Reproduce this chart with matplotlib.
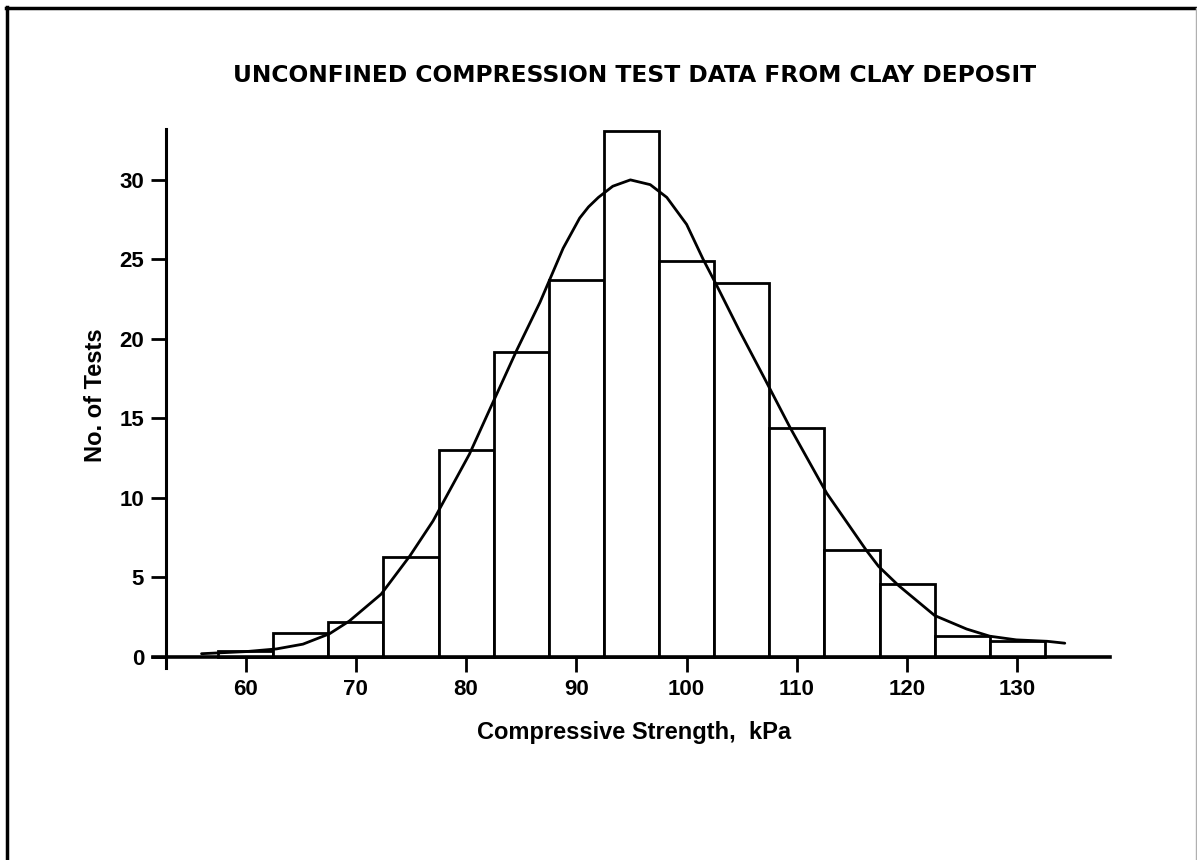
import matplotlib
matplotlib.use("Agg")
import matplotlib.pyplot as plt
from matplotlib.lines import Line2D

plt.rcParams['font.family'] = ['Liberation Sans', 'DejaVu Sans']

# Histogram bins (kPa) and counts
bin_left = [57.5, 62.5, 67.5, 72.5, 77.5, 82.5, 87.5, 92.5, 97.5, 102.5,
            107.5, 112.5, 117.5, 122.5, 127.5]
bin_width = 5.0
counts = [0.35, 1.5, 2.2, 6.3, 13.0, 19.2, 23.7, 33.1, 24.9, 23.5,
          14.4, 6.7, 4.6, 1.3, 1.0]

# Fitted curve
curve_x = [56.0, 60.0, 62.8, 65.2, 67.6, 69.4, 72.3, 74.9, 77.0, 80.3, 82.1,
           84.6, 86.7, 88.8, 90.3, 91.1, 92.0, 93.3, 94.9, 96.7, 98.2, 100.0,
           101.5, 102.7, 104.8, 107.0, 109.4, 112.7, 116.3, 117.4, 119.2,
           122.5, 125.4, 127.5, 129.9, 132.7, 134.3]
curve_y = [0.2, 0.33, 0.5, 0.8, 1.45, 2.25, 3.95, 6.35, 8.55, 12.75, 15.5,
           19.3, 22.3, 25.7, 27.6, 28.3, 28.9, 29.6, 30.0, 29.7, 28.9, 27.2,
           25.0, 23.4, 20.5, 17.6, 14.4, 10.3, 6.7, 5.7, 4.5,
           2.6, 1.75, 1.3, 1.07, 0.98, 0.86]

x_ticks = [60, 70, 80, 90, 100, 110, 120, 130]
y_ticks = [0, 5, 10, 15, 20, 25, 30]

title = "UNCONFINED COMPRESSION TEST DATA FROM CLAY DEPOSIT"
xlabel = "Compressive Strength,  kPa"
ylabel = "No. of Tests"

W, H = 1197, 860
fig = plt.figure(figsize=(W / 100, H / 100), dpi=100)

# axes in pixel coordinates
ax_l, ax_r, ax_t, ax_b = 153, 1110, 129, 668
ax = fig.add_axes([ax_l / W, 1 - ax_b / H, (ax_r - ax_l) / W, (ax_b - ax_t) / H])
ax.set_xlim(51.6, 138.4)
ax.set_ylim(-0.7, 33.2)

ax.bar(bin_left, counts, width=bin_width, align='edge', facecolor='white',
       edgecolor='black', linewidth=2.0, zorder=2)
ax.plot(curve_x, curve_y, color='black', linewidth=2.0, zorder=3,
        solid_joinstyle='round', solid_capstyle='round')

for s in ['top', 'right']:
    ax.spines[s].set_visible(False)
ax.spines['left'].set_position(('data', 52.8))
ax.spines['bottom'].set_position(('data', 0))
ax.spines['left'].set_linewidth(2.2)
ax.spines['bottom'].set_linewidth(2.6)
ax.spines['left'].set_zorder(4)
ax.spines['bottom'].set_zorder(4)

ax.set_xticks(x_ticks)
ax.set_yticks(y_ticks)
ax.tick_params(axis='both', direction='out', length=11, width=2.0,
               labelsize=16, pad=5)
for lab in ax.get_xticklabels() + ax.get_yticklabels():
    lab.set_fontweight('bold')

fig.text(635 / W, 1 - 75 / H, title, ha='center', va='center',
         fontsize=16.8, fontweight='bold', family=['DejaVu Sans'])
fig.text(634 / W, 1 - 733 / H, xlabel, ha='center', va='center',
         fontsize=17, fontweight='bold')
fig.text(95 / W, 1 - 395 / H, ylabel, ha='center', va='center',
         rotation=90, fontsize=17, fontweight='bold')

# outer frame (left, top heavy; right light)
fig.add_artist(Line2D([7 / W, 7 / W], [0, 1 - 7 / H], color='black',
                      linewidth=2.5, transform=fig.transFigure))
fig.add_artist(Line2D([6 / W, 1196 / W], [1 - 8 / H, 1 - 8 / H], color='black',
                      linewidth=2.5, transform=fig.transFigure))
fig.add_artist(Line2D([1195.5 / W, 1195.5 / W], [0, 1 - 8 / H], color='#b0b0b0',
                      linewidth=1.0, transform=fig.transFigure))

fig.savefig("out.png", dpi=100, facecolor='white')
